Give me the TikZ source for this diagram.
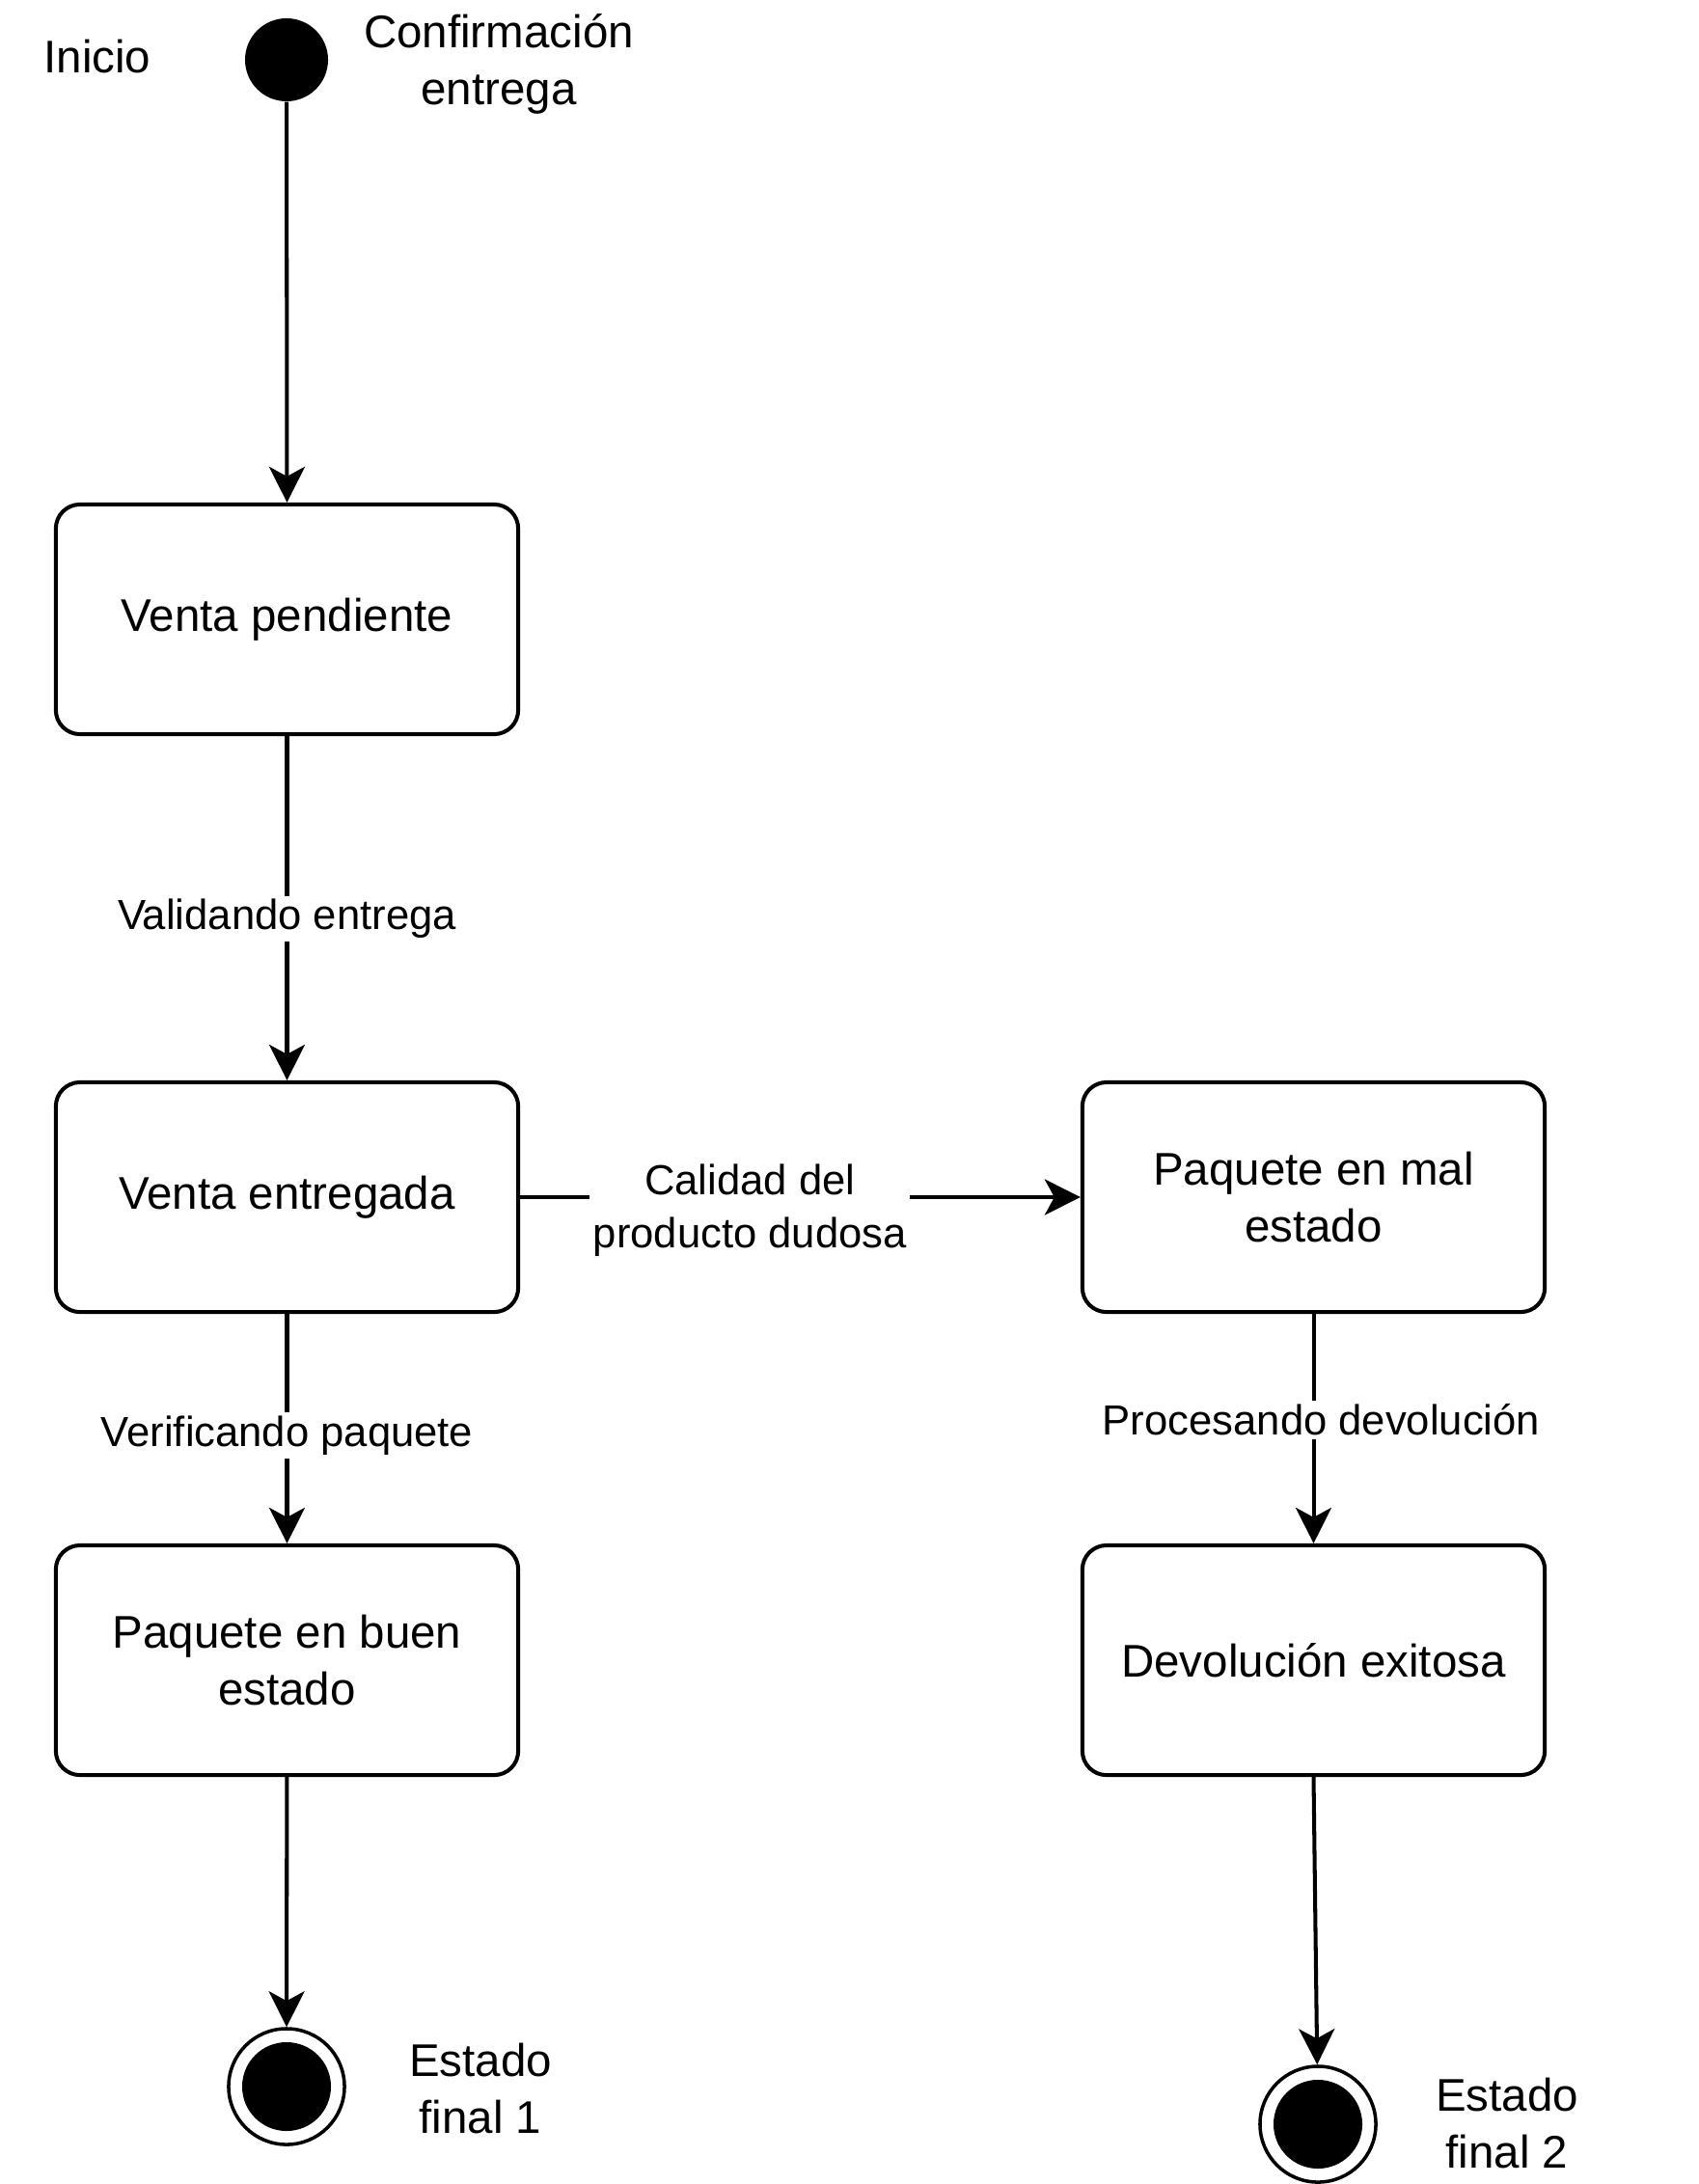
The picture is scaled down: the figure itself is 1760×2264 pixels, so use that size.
\documentclass[tikz,border=0pt]{standalone}
\usepackage{fontspec}
\setmainfont{Liberation Sans}
\usetikzlibrary{arrows.meta}

\tikzset{
  estado/.style={draw, line width=1.15pt, rounded corners=0.25cm,
    minimum width=4.79cm, minimum height=2.38cm, align=center,
    font=\fontsize{13.5}{16.8}\selectfont},
  inicial/.style={circle, fill, minimum size=0.86cm, inner sep=0pt},
  final/.style={circle, draw, line width=1pt, minimum size=1.2cm, inner sep=0pt,
    path picture={\fill (path picture bounding box.center) circle (0.46cm);}},
  rotulo/.style={align=center, font=\fontsize{13.5}{16.8}\selectfont},
  elabel/.style={fill=white, align=center, inner sep=1pt,
    font=\fontsize{12.4}{15.6}\selectfont},
  flecha/.style={line width=1.15pt, -{Stealth[length=0.37cm, width=0.37cm, inset=0.1cm]}}
}

\begin{document}
\begin{tikzpicture}[x=0.01cm, y=-0.01cm]
\useasboundingbox (0,0) rectangle (1760,2264);

% estados iniciales y finales
\node[inicial] (ini) at (297,62) {};
\node[rotulo] (tini) at (101,59) {Inicio};
\node[rotulo] (tconf) at (517,66) {Confirmación\\entrega};

\node[final] (fin1) at (297,2163) {};
\node[rotulo] (tfin1) at (498,2165) {Estado\\final 1};
\node[final] (fin2) at (1366,2202) {};
\node[rotulo] (tfin2) at (1562,2201) {Estado\\final 2};

% estados
\node[estado] (pend) at (297.5,642) {Venta pendiente};
\node[estado] (entr) at (297.5,1241) {Venta entregada};
\node[estado] (buen) at (297.5,1721) {Paquete en buen\\estado};
\node[estado] (mal) at (1361.5,1241) {Paquete en mal\\estado};
\node[estado] (devo) at (1361.5,1721) {Devolución exitosa};

% transiciones
\draw[flecha] (ini) -- (pend.north);
\draw[flecha] (pend) -- node[elabel, yshift=-0.11cm] {Validando entrega} (entr);
\draw[flecha] (entr) -- node[elabel, yshift=-0.07cm] {Verificando paquete} (buen);
\draw[flecha] (buen) -- (fin1);
\draw[flecha] (entr) -- node[elabel, pos=0.41, yshift=-0.14cm] {Calidad del\\producto dudosa} (mal);
\draw[flecha] (mal) -- node[elabel, xshift=0.08cm, yshift=0.09cm] {Procesando devolución} (devo);
\draw[flecha] (devo.south) -- (fin2);

\end{tikzpicture}
\end{document}
